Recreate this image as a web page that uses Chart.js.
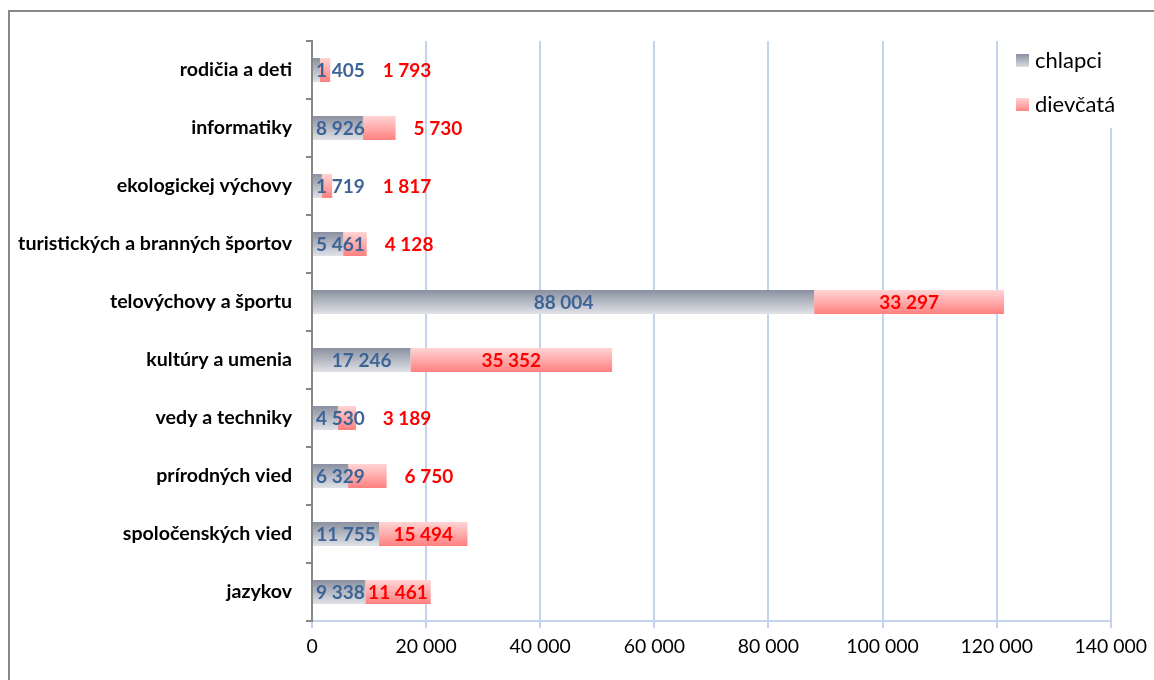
<!DOCTYPE html>
<html>
<head>
<meta charset="utf-8">
<script src="https://cdn.jsdelivr.net/npm/chart.js@4.4.0/dist/chart.umd.min.js"></script>
<style>
  html, body { margin: 0; padding: 0; background: #fff; overflow: hidden; }
  #wrap { width: 1154px; height: 680px; position: relative; }
</style>
</head>
<body>
<div id="wrap"><canvas id="chart" width="1154" height="680"></canvas></div>
<script>
// data
const categories = ['rodičia a deti', 'informatiky', 'ekologickej výchovy', 'turistických a branných športov',
  'telovýchovy a športu', 'kultúry a umenia', 'vedy a techniky', 'prírodných vied',
  'spoločenských vied', 'jazykov'];
const chlapci = [1405, 8926, 1719, 5461, 88004, 17246, 4530, 6329, 11755, 9338];
const dievcata = [1793, 5730, 1817, 4128, 33297, 35352, 3189, 6750, 15494, 11461];
const seriesNames = ['chlapci', 'dievčatá'];
const xMax = 140000;
const xStep = 20000;

const FONT = 'Lato, "Open Sans", sans-serif';
const BAR_PCT = 0.414;
const grayStops = ['#8a90a0', '#e0e2e7'];
const pinkStops = ['#ffd4d4', '#ff8080'];
const gridBlue = '#c4d2ee';

function fmt(v) {
  return String(v).replace(/\B(?=(\d{3})+(?!\d))/g, ' ');
}

function barFill(ctx, stops) {
  const chart = ctx.chart;
  const ys = chart.scales && chart.scales.y;
  if (ctx.type !== 'data' || !ys || !chart.chartArea) return stops[1];
  const yc = ys.getPixelForValue(ctx.dataIndex);
  const h = (ys.height / categories.length) * BAR_PCT;
  const g = chart.ctx.createLinearGradient(0, yc - h / 2, 0, yc + h / 2);
  g.addColorStop(0, stops[0]);
  g.addColorStop(1, stops[1]);
  return g;
}

// outer frame of the chart (only left and top edges are inside the picture)
const framePlugin = {
  id: 'frame',
  beforeDraw(chart) {
    const c = chart.ctx;
    c.save();
    c.fillStyle = '#fff';
    c.fillRect(0, 0, chart.width, chart.height);
    c.strokeStyle = '#878787';
    c.lineWidth = 2;
    c.beginPath();
    c.moveTo(9, chart.height + 5);
    c.lineTo(9, 11);
    c.lineTo(chart.width + 5, 11);
    c.stroke();
    c.restore();
  }
};

// value labels on the bars
const labelPlugin = {
  id: 'barLabels',
  afterDatasetsDraw(chart) {
    const c = chart.ctx;
    const m0 = chart.getDatasetMeta(0).data;
    const m1 = chart.getDatasetMeta(1).data;
    c.save();
    c.font = 'bold 19px ' + FONT;
    c.textAlign = 'center';
    c.textBaseline = 'middle';
    m0.forEach((bar, i) => {
      const p = bar.getProps(['x', 'y', 'base'], true);
      const t0 = fmt(chlapci[i]);
      const w0 = c.measureText(t0).width;
      const seg0 = p.x - p.base;
      let cx0 = (p.base + p.x) / 2;
      if (w0 + 4 > seg0) cx0 = Math.max(cx0, p.base + w0 / 2 + 3);
      c.fillStyle = '#3d6496';
      c.fillText(t0, cx0, p.y + 1);
      const right0 = cx0 + w0 / 2;

      const q = m1[i].getProps(['x', 'y', 'base'], true);
      const t1 = fmt(dievcata[i]);
      const w1 = c.measureText(t1).width;
      const seg1 = q.x - q.base;
      let cx1 = (q.base + q.x) / 2;
      if (w1 + 4 > seg1) cx1 = Math.max(q.x, right0) + 18 + w1 / 2;
      c.fillStyle = '#ff0000';
      c.fillText(t1, cx1, q.y + 1);
    });
    c.restore();
  }
};

// legend box in the upper right corner
const legendPlugin = {
  id: 'cornerLegend',
  afterDatasetsDraw(chart) {
    const c = chart.ctx;
    c.save();
    c.fillStyle = '#fff';
    c.fillRect(1004, 40, 146, 88);
    const rows = [[grayStops, 61], [pinkStops, 105]];
    rows.forEach((r, i) => {
      const y = r[1];
      const g = c.createLinearGradient(0, y - 7, 0, y + 7);
      g.addColorStop(0, r[0][0]);
      g.addColorStop(1, r[0][1]);
      c.fillStyle = g;
      c.fillRect(1016, y - 7, 13, 13);
      c.fillStyle = '#000';
      c.font = '22px ' + FONT;
      c.textAlign = 'left';
      c.textBaseline = 'middle';
      c.fillText(seriesNames[i], 1035, y);
    });
    c.restore();
  }
};

new Chart(document.getElementById('chart'), {
  type: 'bar',
  data: {
    labels: categories,
    datasets: [
      {
        label: seriesNames[0],
        data: chlapci,
        backgroundColor: ctx => barFill(ctx, grayStops),
        barPercentage: BAR_PCT,
        categoryPercentage: 1
      },
      {
        label: seriesNames[1],
        data: dievcata,
        backgroundColor: ctx => barFill(ctx, pinkStops),
        barPercentage: BAR_PCT,
        categoryPercentage: 1
      }
    ]
  },
  options: {
    indexAxis: 'y',
    responsive: false,
    animation: false,
    devicePixelRatio: 1,
    layout: { padding: { top: 41, right: 41, left: 0, bottom: 0 } },
    plugins: {
      legend: { display: false },
      tooltip: { enabled: false }
    },
    scales: {
      x: {
        stacked: true,
        min: 0,
        max: xMax,
        afterFit: s => { s.height = 59; },
        ticks: {
          stepSize: xStep,
          color: '#000',
          font: { family: FONT, size: 19.4 },
          padding: 7,
          maxRotation: 0,
          callback: v => fmt(v)
        },
        grid: { color: gridBlue, lineWidth: 2, tickLength: 7, tickColor: gridBlue },
        border: { color: gridBlue, width: 2 }
      },
      y: {
        stacked: true,
        afterFit: s => { s.width = 312; },
        ticks: {
          color: '#000',
          font: { family: FONT, size: 19.6, weight: 'bold' },
          padding: 14
        },
        grid: { offset: true, color: 'rgba(0,0,0,0)', tickColor: '#878787', tickLength: 6, lineWidth: 2 },
        border: { color: '#878787', width: 2 }
      }
    }
  },
  plugins: [framePlugin, labelPlugin, legendPlugin]
});
</script>
</body>
</html>
